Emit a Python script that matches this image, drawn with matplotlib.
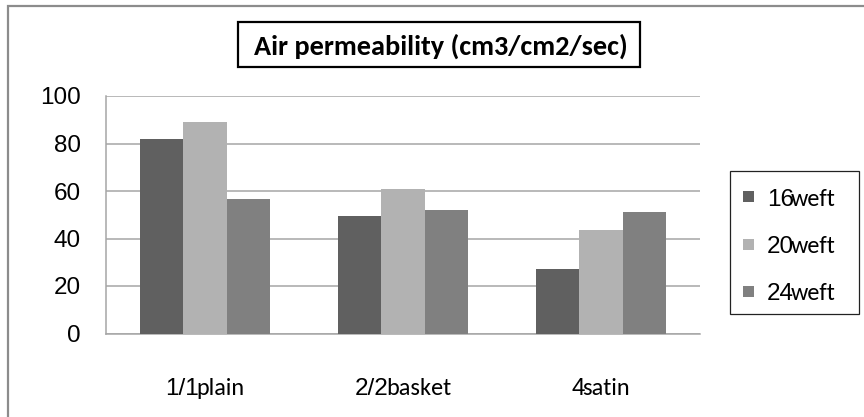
import numpy as np
import matplotlib
matplotlib.use('Agg')
import matplotlib.pyplot as plt
from matplotlib import font_manager as fm
from matplotlib.patches import Rectangle

# weave structures (number part, word part)
weave_nums  = ['1/1', '2/2', '4']
weave_words = ['plain', 'basket', 'satin']

# weft densities (number part, word part)
weft_nums  = ['16', '20', '24']
weft_word  = 'weft'

# air permeability, cm3/cm2/sec
perm_16 = [81.7, 49.3, 27.3]
perm_20 = [89.0, 61.0, 43.6]
perm_24 = [56.5, 51.9, 51.1]

yticks = [0, 20, 40, 60, 80, 100]
title = 'Air permeability (cm3/cm2/sec)'

colors = ['#606060', '#b2b2b2', '#808080']
W, H = 864, 417
NUM_FONT = 'Liberation Sans'
installed = {f.name for f in fm.fontManager.ttflist}
WORD_FONT = 'Carlito' if 'Carlito' in installed else 'Lato'
FS = 17.5


def main():
    fig = plt.figure(figsize=(W / 100, H / 100), dpi=100)
    fig.patch.set_facecolor('white')

    # outer chart frame, runs off the right and bottom edges
    fig.patches.append(Rectangle((8, -10), W + 10, H + 4, transform=None,
                                 fill=False, edgecolor='#8c8c8c', linewidth=1.6))

    ax = fig.add_axes([106 / W, 1 - 333.5 / H, (700 - 106) / W, (333.5 - 96) / H])

    series = [perm_16, perm_20, perm_24]
    x = np.arange(len(weave_nums))
    width = 0.219
    for i, (vals, c) in enumerate(zip(series, colors)):
        ax.bar(x + (i - 1) * width, vals, width, color=c, zorder=3, linewidth=0)

    ax.set_xlim(-0.5, len(x) - 0.5)
    ax.set_ylim(0, 100)
    ax.set_yticks(yticks)
    ax.set_yticklabels([str(t) for t in yticks], fontfamily=NUM_FONT, fontsize=FS)
    ax.tick_params(axis='y', length=0, pad=18)
    ax.set_xticks([])
    ax.grid(axis='y', color='#a6a6a6', linewidth=1.1, zorder=0)
    for s in ['top', 'right']:
        ax.spines[s].set_visible(False)
    for s in ['left', 'bottom']:
        ax.spines[s].set_color('#a6a6a6')
        ax.spines[s].set_linewidth(1.1)

    renderer = fig.canvas.get_renderer()
    kern = -3

    def pair_text(px, py, head, tail, align='center'):
        # px, py: pixel position from the top-left, py is the baseline
        a = fig.text(0, 0, head, fontfamily=NUM_FONT, fontsize=FS, va='baseline', ha='left')
        b = fig.text(0, 0, tail, fontfamily=WORD_FONT, fontsize=FS, va='baseline', ha='left')
        wa = a.get_window_extent(renderer).width + kern
        wb = b.get_window_extent(renderer).width
        x0 = px - (wa + wb) / 2 if align == 'center' else px
        a.set_position((x0 / W, 1 - py / H))
        b.set_position(((x0 + wa) / W, 1 - py / H))

    # category labels under each group
    for xi, n, w in zip(x, weave_nums, weave_words):
        px = ax.transData.transform((xi, 0))[0]
        pair_text(px, 395, n, w)

    # legend
    fig.patches.append(Rectangle((730, H - 314), 129, 143, transform=None,
                                 fill=False, edgecolor='#222222', linewidth=0.9))
    for i, (n, c) in enumerate(zip(weft_nums, colors)):
        cy = 196.5 + i * 47.5
        fig.patches.append(Rectangle((743, H - cy - 5.5), 11, 11, transform=None,
                                     facecolor=c, edgecolor='none'))
        pair_text(767, cy + 9, n, weft_word, align='left')

    # boxed title
    fig.patches.append(Rectangle((238, H - 66.7), 402, 44.4, transform=None,
                                 fill=False, edgecolor='black', linewidth=1.6))
    title_size = 20.3 if WORD_FONT == 'Carlito' else 18.5
    fig.text(441 / W, 1 - 54.3 / H, title, fontfamily=WORD_FONT, fontweight='bold',
             fontsize=title_size, ha='center', va='baseline')

    fig.savefig('out.png', dpi=100)


if __name__ == '__main__':
    main()
